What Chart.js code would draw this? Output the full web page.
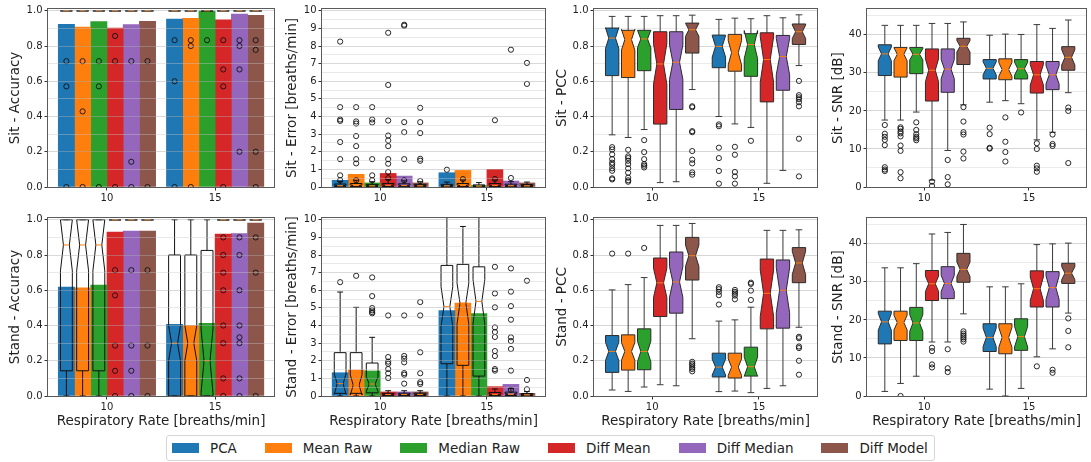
<!DOCTYPE html>
<html>
<head>
<meta charset="utf-8">
<script src="https://cdn.jsdelivr.net/npm/chart.js@4"></script>
<style>
  body { margin: 0; background: #fff; width: 1091px; height: 462px; position: relative; overflow: hidden; font-family: "DejaVu Sans", sans-serif; }
  canvas { position: absolute; }
  #legend { position: absolute; left: 166px; top: 435px; height: 26px; box-sizing: border-box; border: 1px solid #d6d6d6; border-radius: 3px;
            display: flex; align-items: center; padding: 0 6px 0 5px; font-size: 13.5px; color: #222; background: #fff; }
  #legend .item { display: flex; align-items: center; margin-right: 28px; }
  #legend .item:last-child { margin-right: 0; }
  #legend .patch { width: 27px; height: 10px; margin-right: 11px; }
</style>
</head>
<body>
<div id="legend"></div>
<script>
// methods, colours and x categories
const methods = ['PCA', 'Mean Raw', 'Median Raw', 'Diff Mean', 'Diff Median', 'Diff Model'];
const colors = ['#1f77b4', '#ff7f0e', '#2ca02c', '#d62728', '#9467bd', '#8c564b'];
const rates = ['10', '15'];

// bar heights [rate][method]
const sitAccBars = [[0.923, 0.908, 0.938, 0.902, 0.921, 0.940], [0.953, 0.957, 0.998, 0.949, 0.981, 0.974]];
const sitErrBars = [[0.38, 0.72, 0.23, 0.77, 0.62, 0.23], [0.81, 0.94, 0.08, 1.0, 0.34, 0.23]];
const standAccBars = [[0.618, 0.614, 0.63, 0.93, 0.936, 0.936], [0.406, 0.399, 0.412, 0.919, 0.922, 0.981]];
const standErrBars = [[1.32, 1.47, 1.42, 0.23, 0.23, 0.23], [4.84, 5.27, 4.67, 0.53, 0.66, 0.15]];

// box stats [rate][method] = [whisker lo, q1, median, q3, whisker hi, notch lo, notch hi]
const ONE = [1, 1, 1, 1, 1, 1, 1];
const sitAccBox = [[ONE, ONE, ONE, ONE, ONE, ONE], [ONE, ONE, ONE, ONE, ONE, ONE]];
const sitErrBox = [
  [[0, 0.02, 0.07, 0.17, 0.32, 0.03, 0.11], [0, 0.03, 0.08, 0.2, 0.38, 0.03, 0.13], [0, 0.02, 0.06, 0.15, 0.3, 0.02, 0.1],
   [0, 0.03, 0.09, 0.2, 0.42, 0.04, 0.14], [0, 0.02, 0.08, 0.18, 0.35, 0.03, 0.13], [0, 0.02, 0.06, 0.15, 0.3, 0.02, 0.1]],
  [[0, 0.02, 0.06, 0.15, 0.28, 0.02, 0.1], [0, 0.03, 0.08, 0.2, 0.4, 0.03, 0.13], [0, 0.02, 0.05, 0.12, 0.25, 0.02, 0.08],
   [0, 0.03, 0.08, 0.2, 0.4, 0.03, 0.13], [0, 0.02, 0.07, 0.16, 0.3, 0.03, 0.11], [0, 0.02, 0.06, 0.14, 0.28, 0.02, 0.1]]
];
const sitPccBox = [
  [[0.296, 0.632, 0.845, 0.902, 0.968, 0.786, 0.904], [0.281, 0.621, 0.836, 0.889, 0.968, 0.777, 0.895], [0.326, 0.66, 0.84, 0.889, 0.968, 0.79, 0.89],
   [0.025, 0.357, 0.698, 0.881, 0.972, 0.583, 0.813], [0.03, 0.44, 0.708, 0.881, 0.972, 0.611, 0.805], [0.553, 0.76, 0.892, 0.93, 0.975, 0.855, 0.929]],
  [[0.4, 0.677, 0.798, 0.862, 0.951, 0.737, 0.859], [0.358, 0.657, 0.762, 0.866, 0.958, 0.693, 0.831], [0.338, 0.628, 0.808, 0.87, 0.955, 0.728, 0.888],
   [0.021, 0.483, 0.723, 0.875, 0.972, 0.594, 0.852], [0.094, 0.549, 0.74, 0.86, 0.96, 0.637, 0.843], [0.689, 0.809, 0.881, 0.925, 0.977, 0.843, 0.919]]
];
const sitSnrBox = [
  [[17.6, 29.3, 35.0, 37.4, 42.5, 33.2, 36.8], [17.6, 28.9, 34.9, 36.7, 42.5, 33.2, 36.6], [19.7, 29.8, 34.9, 36.7, 42.5, 33.4, 36.4],
   [1.8, 22.6, 30.7, 36.3, 43.0, 27.7, 33.7], [9.6, 24.9, 31.0, 36.3, 43.0, 28.5, 33.5], [21.6, 32.2, 37.0, 39.1, 43.4, 35.5, 38.5]],
  [[22.3, 28.4, 31.2, 33.5, 39.9, 29.5, 32.9], [22.7, 28.2, 30.9, 33.7, 40.2, 29.1, 32.7], [21.9, 28.4, 31.1, 33.5, 40.1, 29.4, 32.8],
   [12.4, 24.7, 29.5, 33.0, 42.7, 26.8, 32.2], [14.4, 25.6, 29.5, 33.0, 41.7, 27.1, 31.9], [24.8, 30.7, 34.1, 36.9, 43.9, 32.1, 36.1]]
];
const standAccBox = [
  [[0, 0.143, 0.857, 1, 1, 0.71, 1], [0, 0.143, 0.857, 1, 1, 0.71, 1], [0, 0.143, 0.857, 1, 1, 0.71, 1], ONE, ONE, ONE],
  [[0, 0, 0.3, 0.8, 1, 0.2, 0.4], [0, 0, 0.3, 0.8, 1, 0.2, 0.4], [0, 0, 0.2, 0.826, 1, 0.02, 0.38], ONE, ONE, ONE]
];
const standErrBox = [
  [[0, 0.15, 0.7, 2.46, 5.9, 0.1, 1.25], [0, 0.15, 0.62, 2.46, 5.03, 0.05, 1.2], [0, 0.18, 0.68, 1.87, 3.33, 0.26, 1.1],
   [0, 0.03, 0.08, 0.15, 0.3, 0.05, 0.11], [0, 0.03, 0.08, 0.16, 0.3, 0.05, 0.11], [0, 0.03, 0.08, 0.16, 0.3, 0.05, 0.11]],
  [[0, 1.83, 5.07, 7.41, 10.5, 3.95, 6.2], [0, 1.74, 5.27, 7.47, 9.62, 4.1, 6.4], [0, 1.13, 5.37, 7.33, 10.5, 4.1, 6.6],
   [0, 0.03, 0.08, 0.2, 0.4, 0.04, 0.12], [0, 0.03, 0.1, 0.22, 0.42, 0.05, 0.15], [0, 0.02, 0.06, 0.14, 0.25, 0.03, 0.09]]
];
const standPccBox = [
  [[0.034, 0.134, 0.253, 0.343, 0.602, 0.201, 0.305], [0.026, 0.147, 0.253, 0.347, 0.632, 0.203, 0.303], [0.051, 0.149, 0.253, 0.381, 0.672, 0.195, 0.311],
   [0.064, 0.451, 0.642, 0.783, 0.968, 0.559, 0.725], [0.058, 0.47, 0.647, 0.817, 0.968, 0.56, 0.734], [0.325, 0.658, 0.796, 0.9, 0.979, 0.736, 0.856]],
  [[0.025, 0.108, 0.164, 0.243, 0.425, 0.119, 0.209], [0.028, 0.102, 0.164, 0.243, 0.432, 0.117, 0.211], [0.019, 0.113, 0.166, 0.277, 0.504, 0.112, 0.22],
   [0.043, 0.381, 0.583, 0.777, 0.94, 0.452, 0.714], [0.058, 0.385, 0.6, 0.772, 0.94, 0.472, 0.728], [0.39, 0.643, 0.755, 0.842, 0.943, 0.689, 0.821]]
];
const standSnrBox = [
  [[1.2, 13.7, 19.5, 22.3, 33.7, 17.3, 21.7], [3.3, 14.6, 19.3, 22.3, 33.7, 17.4, 21.2], [5.2, 14.6, 19.2, 23.3, 34.8, 17.0, 21.4],
   [14.2, 25.1, 29.5, 33.0, 42.6, 27.5, 31.5], [14.2, 25.6, 29.6, 34.0, 43.0, 27.5, 31.7], [21.6, 29.9, 33.3, 37.5, 45.1, 31.4, 35.2]],
  [[1.8, 11.7, 15.4, 19.0, 28.7, 13.0, 17.8], [0.0, 11.1, 15.4, 19.0, 28.7, 12.8, 18.0], [2.0, 12.0, 15.6, 20.3, 29.5, 12.9, 18.3],
   [10.3, 23.4, 28.2, 32.9, 39.8, 25.1, 31.3], [12.4, 23.4, 28.5, 32.7, 40.0, 25.4, 31.6], [21.8, 29.6, 32.3, 34.9, 40.2, 30.6, 34.0]]
];

// outliers (fliers) [rate][method]
const sitAccOut = [
  [[0.714, 0.571, 0], [0.714, 0.429, 0], [0.714, 0.571, 0], [0.857, 0.714, 0], [0.714, 0.143, 0], [0.714, 0]],
  [[0.833, 0.6, 0], [0.833, 0.8, 0], [0.833], [0.833, 0.667, 0.571, 0], [0.833, 0.8, 0.667, 0.2], [0.833, 0.778, 0.2, 0]]
];
const sitErrOut = [
  [[8.25, 4.53, 3.83, 3.75, 2.55, 1.58, 0.66, 0.38], [4.53, 3.72, 3.6, 2.89, 2.32, 1.58, 1.34, 0.38], [4.53, 3.83, 3.66, 1.58, 0.66, 0.38],
   [8.75, 5.79, 3.77, 2.92, 2.64, 2.32, 1.58, 1.32, 0.85, 0.5], [9.21, 9.15, 3.68, 3.11, 1.58, 0.38], [4.49, 3.68, 3.06, 1.6, 1.49, 0.34]],
  [[0.98], [0.45], [], [3.79, 0.45], [7.79, 0.51], [7.04, 5.85]]
];
const sitPccOut = [
  [[0.226, 0.213, 0.185, 0.158, 0.138, 0.126, 0.106, 0.092, 0.049, 0.043], [0.211, 0.174, 0.164, 0.149, 0.13, 0.106, 0.081, 0.053, 0.038, 0.03],
   [0.266, 0.198, 0.158, 0.13, 0.121, 0.111], [], [], [0.458, 0.452, 0.317, 0.311, 0.204, 0.155, 0.134, 0.083, 0.07]],
  [[0.355, 0.345, 0.223, 0.164, 0.091, 0.019], [0.228, 0.183, 0.085, 0.06, 0.019], [0.262], [], [],
   [0.602, 0.521, 0.509, 0.498, 0.481, 0.458, 0.274, 0.06]]
];
const sitSnrOut = [
  [[16.3, 14.0, 13.2, 12.4, 11.0, 5.2, 4.6, 4.2], [15.7, 15.3, 14.6, 14.1, 13.3, 10.9, 9.5, 3.9, 2.3], [17.0, 15.0, 13.9, 13.2, 12.8, 12.3],
   [1.4, 0.3], [7.1, 2.6, 0.7], [21.0, 17.2, 14.4, 13.8, 9.3, 7.5]],
  [[15.6, 13.9, 10.3, 10.1], [18.3, 11.9, 9.2, 6.7], [19.6], [11.5, 10.0, 5.6, 4.9, 4.0], [13.8, 11.3, 10.8], [20.9, 20.0, 6.3]]
];
const standAccOut = [
  [[], [], [], [0.714, 0.571, 0.286, 0.143, 0], [0.714, 0.286, 0.143, 0], [0.714, 0.286, 0]],
  [[], [], [], [0.9, 0.8, 0.7, 0.6, 0.4, 0.3, 0.1, 0], [0.9, 0.8, 0.6, 0.4, 0.333, 0.3, 0.1, 0], [0.9, 0.7, 0]]
];
const standErrOut = [
  [[6.46], [6.82], [6.73, 5.67, 4.99, 4.86, 4.76, 4.69], [4.57, 2.21, 1.95, 1.83, 1.53, 1.29, 1.02],
   [4.57, 2.27, 2.12, 1.91, 1.3, 1.21, 0.7], [5.33, 4.57, 2.48, 1.29, 0.78, 0.68]],
  [[], [], [], [7.33, 5.82, 5.03, 3.89, 3.63, 3.35, 2.55, 2.27, 1.53, 1.44],
   [7.24, 5.92, 5.1, 4.33, 3.33, 3.12, 2.67, 1.44, 0.34], [6.54, 0.91, 0.38]]
];
const standPccOut = [
  [[0.808], [0.808], [0.84], [], [], [0.194, 0.183, 0.174, 0.162, 0.153, 0.14]],
  [[0.617, 0.606, 0.591, 0.572, 0.519], [0.602, 0.591, 0.581, 0.57, 0.549], [0.643, 0.636, 0.598, 0.545], [], [],
   [0.336, 0.328, 0.281, 0.272, 0.2, 0.121]]
];
const standSnrOut = [
  [[], [0.0], [], [12.7, 11.8, 8.3, 7.5], [12.3, 7.3, 6.3], [17.0, 16.4, 15.9, 15.4, 14.9, 14.3]],
  [[], [], [], [7.8], [6.9, 6.1], [20.4, 17.1, 12.8]]
];

// y axis ranges
const axes = {
  acc: { max: 1.01, major: 0.2, minor: 0.1, dec: 1 },
  err: { max: 10.1, major: 1, minor: 0.5, dec: 0 },
  pcc: { max: 1.01, major: 0.2, minor: 0.1, dec: 1 },
  snr: { max: 46.8, major: 10, minor: 5, dec: 0 }
};

const panels = [
  { row: 0, col: 0, title: 'Sit - Accuracy', axis: 'acc', bars: sitAccBars, box: sitAccBox, out: sitAccOut },
  { row: 0, col: 1, title: 'Sit - Error [breaths/min]', axis: 'err', bars: sitErrBars, box: sitErrBox, out: sitErrOut },
  { row: 0, col: 2, title: 'Sit - PCC', axis: 'pcc', box: sitPccBox, out: sitPccOut },
  { row: 0, col: 3, title: 'Sit - SNR [dB]', axis: 'snr', box: sitSnrBox, out: sitSnrOut },
  { row: 1, col: 0, title: 'Stand - Accuracy', axis: 'acc', bars: standAccBars, box: standAccBox, out: standAccOut },
  { row: 1, col: 1, title: 'Stand - Error [breaths/min]', axis: 'err', bars: standErrBars, box: standErrBox, out: standErrOut },
  { row: 1, col: 2, title: 'Stand - PCC', axis: 'pcc', box: standPccBox, out: standPccOut },
  { row: 1, col: 3, title: 'Stand - SNR [dB]', axis: 'snr', box: standSnrBox, out: standSnrOut }
];

// subplot placement
const colLayout = [
  { left: 0, axisW: 48, plotW: 228, titlePad: 7.6, padR: 3 },
  { left: 280, axisW: 42, plotW: 225, titlePad: 4.6, padR: 3 },
  { left: 550, axisW: 44, plotW: 225, titlePad: 3.9, padR: 3 },
  { left: 826, axisW: 41, plotW: 222, titlePad: 4.2, padR: 2 }
];
const rowLayout = [{ top: 1, axisH: 20 }, { top: 210, axisH: 34 }];
const PAD_TOP = 8, PLOT_H = 178;
const BAR_W = 0.15;
const offsets = methods.map((m, j) => (j - 2.5) * BAR_W);

Chart.defaults.font.family = '"DejaVu Sans", sans-serif';
Chart.defaults.color = '#222';

const isMajor = (v, step) => Math.abs(v / step - Math.round(v / step)) < 1e-6;

const boxPlugin = {
  id: 'boxes',
  beforeDatasetsDraw(chart) { chart.$boxDone = false; },
  beforeDatasetDraw(chart, args) {
    if (chart.$boxDone || args.meta.type !== 'scatter') return;
    chart.$boxDone = true;
    const opt = chart.options.plugins.boxes;
    const xs = chart.scales.x, ys = chart.scales.y, ctx = chart.ctx, a = chart.chartArea;
    const Y = v => ys.getPixelForValue(v);
    ctx.save();
    ctx.beginPath();
    ctx.rect(a.left, a.top, a.right - a.left, a.bottom - a.top);
    ctx.clip();
    ctx.lineWidth = 1;
    opt.box.forEach((grp, g) => grp.forEach((b, j) => {
      const [lo, q1, med, q3, hi, nlo, nhi] = b;
      const cx = xs.getPixelForValue(g + offsets[j]);
      const half = xs.getPixelForValue(g + offsets[j] + opt.width / 2) - cx;
      const L = cx - half, R = cx + half, q = half / 2;
      // whiskers + caps
      ctx.strokeStyle = opt.whisker;
      ctx.beginPath();
      ctx.moveTo(cx, Y(q1)); ctx.lineTo(cx, Y(lo));
      ctx.moveTo(cx, Y(q3)); ctx.lineTo(cx, Y(hi));
      ctx.moveTo(cx - q, Y(lo)); ctx.lineTo(cx + q, Y(lo));
      ctx.moveTo(cx - q, Y(hi)); ctx.lineTo(cx + q, Y(hi));
      ctx.stroke();
      // notched box
      ctx.beginPath();
      ctx.moveTo(L, Y(q1)); ctx.lineTo(L, Y(nlo)); ctx.lineTo(L + q, Y(med)); ctx.lineTo(L, Y(nhi)); ctx.lineTo(L, Y(q3));
      ctx.lineTo(R, Y(q3)); ctx.lineTo(R, Y(nhi)); ctx.lineTo(R - q, Y(med)); ctx.lineTo(R, Y(nlo)); ctx.lineTo(R, Y(q1));
      ctx.closePath();
      if (opt.fill) { ctx.fillStyle = colors[j]; ctx.fill(); }
      ctx.strokeStyle = opt.edge;
      ctx.stroke();
      // median
      ctx.strokeStyle = '#ff7f0e';
      ctx.beginPath();
      ctx.moveTo(L + q, Y(med)); ctx.lineTo(R - q, Y(med));
      ctx.stroke();
    }));
    ctx.restore();
  },
  afterDraw(chart) {
    const a = chart.chartArea, ctx = chart.ctx;
    ctx.save();
    ctx.strokeStyle = '#5a5a5a';
    ctx.lineWidth = 1;
    ctx.strokeRect(Math.round(a.left) - 0.5, Math.round(a.top) - 0.5, Math.round(a.right - a.left) + 1, Math.round(a.bottom - a.top) + 1);
    ctx.restore();
  }
};

panels.forEach(p => {
  const c = colLayout[p.col], r = rowLayout[p.row], ax = axes[p.axis];
  const canvas = document.createElement('canvas');
  canvas.width = c.axisW + c.plotW + c.padR;
  canvas.height = PAD_TOP + PLOT_H + r.axisH;
  canvas.style.left = c.left + 'px';
  canvas.style.top = r.top + 'px';
  document.body.appendChild(canvas);

  const datasets = [];
  if (p.bars) {
    methods.forEach((m, j) => datasets.push({
      type: 'bar', label: m,
      data: p.bars.map((grp, g) => ({ x: g + offsets[j], y: grp[j] })),
      backgroundColor: colors[j], borderWidth: 0,
      grouped: false, categoryPercentage: 1, barPercentage: 1, order: 2
    }));
  }
  methods.forEach((m, j) => datasets.push({
    type: 'scatter', label: m,
    data: p.out.flatMap((grp, g) => grp[j].map(v => ({ x: g + offsets[j], y: v }))),
    pointRadius: 2.6, pointBorderWidth: 0.9, borderColor: '#111', backgroundColor: 'rgba(0,0,0,0)',
    clip: 0, order: 1
  }));

  const yTicks = [];
  for (let k = 0; k * ax.minor <= ax.max + 1e-9; k++) yTicks.push(Math.round(k * ax.minor * 1000) / 1000);

  new Chart(canvas, {
    type: 'scatter',
    data: { datasets },
    plugins: [boxPlugin],
    options: {
      responsive: false, animation: false, devicePixelRatio: 1,
      layout: { padding: { top: PAD_TOP, right: c.padR, left: 0, bottom: 0 } },
      plugins: {
        legend: { display: false }, tooltip: { enabled: false },
        boxes: { box: p.box, fill: !p.bars, width: p.bars ? 0.11 : 0.125, edge: p.bars ? '#111' : '#2b2b2b', whisker: p.bars ? '#111' : '#3a3a3a' }
      },
      scales: {
        x: {
          type: 'linear', min: -0.545, max: 1.545, offset: false,
          afterBuildTicks: s => { s.ticks = rates.map((t, i) => ({ value: i })); },
          afterFit: s => { s.height = r.axisH; },
          ticks: { callback: (v, i) => rates[i], font: { size: 10 }, color: '#222', padding: 2, maxRotation: 0, autoSkip: false },
          grid: { display: true, offset: false, drawOnChartArea: false, tickLength: 3.5, tickColor: '#333' },
          border: { display: false },
          title: { display: p.row === 1, text: 'Respiratory Rate [breaths/min]', font: { size: 13.5 }, color: '#222', padding: { top: 0, bottom: 0 } }
        },
        y: {
          min: 0, max: ax.max,
          afterBuildTicks: s => { s.ticks = yTicks.map(v => ({ value: v })); },
          afterFit: s => { s.width = c.axisW; },
          ticks: {
            callback: v => isMajor(v, ax.major) ? v.toFixed(ax.dec) : '',
            font: { size: 10 }, color: '#222', padding: 2, autoSkip: false
          },
          grid: {
            z: p.bars ? 1 : -1,
            color: ctx => isMajor(ctx.tick.value, ax.major)
              ? (p.bars ? 'rgba(170,170,170,0.45)' : '#d6d6d6')
              : (p.bars ? 'rgba(200,200,200,0.4)' : '#ebebeb'),
            tickColor: ctx => isMajor(ctx.tick.value, ax.major) ? '#333' : 'rgba(0,0,0,0)',
            tickLength: 3.5
          },
          border: { display: false },
          title: { display: true, text: p.title, font: { size: 13.5 }, color: '#222', padding: { top: c.titlePad, bottom: 0 } }
        }
      }
    }
  });
});

// legend
const legend = document.getElementById('legend');
methods.forEach((m, j) => {
  const item = document.createElement('div');
  item.className = 'item';
  const patch = document.createElement('div');
  patch.className = 'patch';
  patch.style.background = colors[j];
  const label = document.createElement('span');
  label.textContent = m;
  item.appendChild(patch);
  item.appendChild(label);
  legend.appendChild(item);
});
</script>
</body>
</html>
